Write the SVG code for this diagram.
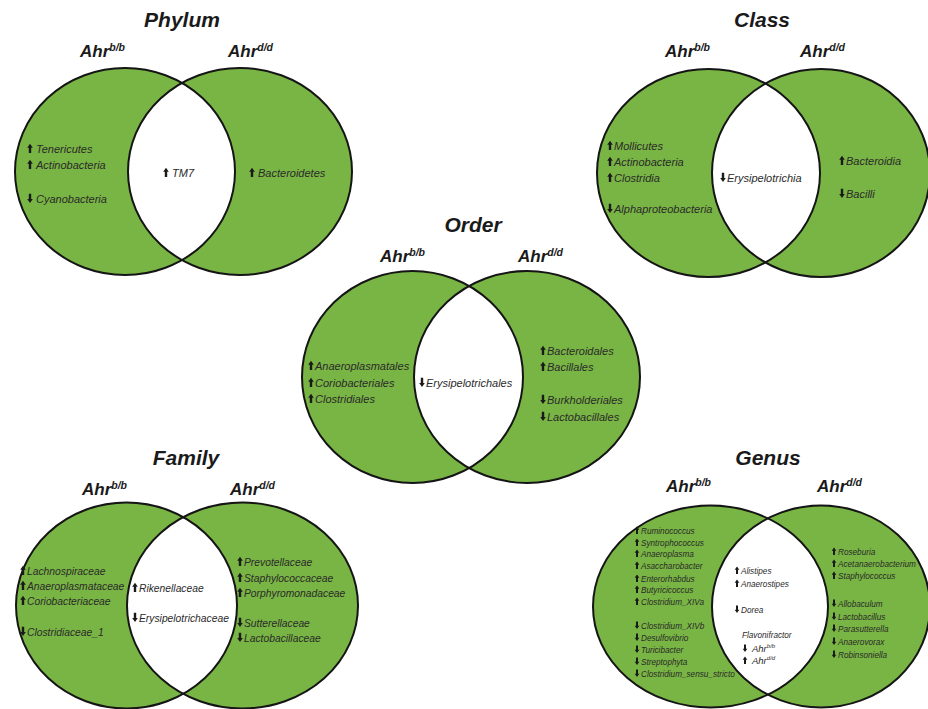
<svg xmlns="http://www.w3.org/2000/svg" xmlns:xlink="http://www.w3.org/1999/xlink" width="928" height="709" viewBox="0 0 928 709">
<style>
.g{fill:#79b544}
.w{fill:#ffffff}
.o{fill:none;stroke:#151515;stroke-width:2}
.ttl{font-family:"Liberation Sans",Arial,sans-serif;font-weight:bold;font-style:italic;font-size:21px;fill:#1a1a1a;text-anchor:middle}
.ahr{font-family:"Liberation Sans",Arial,sans-serif;font-weight:bold;font-style:italic;font-size:17px;fill:#1a1a1a}
.sup{font-size:10.5px}
.t{font-family:"Liberation Sans",Arial,sans-serif;font-style:italic;font-size:11px;fill:#2a2a2a}
.tf{font-size:10.3px}
.tg{font-size:8.2px}
.ar{fill:#1a1a1a}
</style>
<defs>
<path id="up" class="ar" d="M-1.2 0 V-5.2 H-2.8 L0 -9.2 L2.8 -5.2 H1.2 V0 Z"/>
<path id="dn" class="ar" d="M-1.2 -9.2 V-4 H-2.8 L0 0 L2.8 -4 H1.2 V-9.2 Z"/>
<path id="ups" class="ar" d="M-1 0 V-4.2 H-2.3 L0 -7.5 L2.3 -4.2 H1 V0 Z"/>
<path id="dns" class="ar" d="M-1 -7.5 V-3.3 H-2.3 L0 0 L2.3 -3.3 H1 V-7.5 Z"/>
<clipPath id="cP"><ellipse cx="125" cy="171.5" rx="110" ry="103.5"/></clipPath>
<clipPath id="cC"><ellipse cx="708.5" cy="173" rx="111.5" ry="104"/></clipPath>
<clipPath id="cO"><ellipse cx="412.5" cy="377" rx="110.5" ry="106"/></clipPath>
<clipPath id="cF"><ellipse cx="126.5" cy="605.5" rx="110.5" ry="103"/></clipPath>
<clipPath id="cG"><ellipse cx="710.5" cy="606.5" rx="117.5" ry="101"/></clipPath>
</defs>

<g id="phylum">
<ellipse class="g" cx="125" cy="171.5" rx="110" ry="103.5"/>
<ellipse class="g" cx="240" cy="171.5" rx="112" ry="103.5"/>
<ellipse class="w" cx="240" cy="171.5" rx="112" ry="103.5" clip-path="url(#cP)"/>
<ellipse class="o" cx="125" cy="171.5" rx="110" ry="103.5"/>
<ellipse class="o" cx="240" cy="171.5" rx="112" ry="103.5"/>
<text class="ttl" x="182" y="27">Phylum</text>
<text class="ahr" x="80" y="57">Ahr<tspan class="sup" dy="-6.5">b/b</tspan></text>
<text class="ahr" x="228" y="57">Ahr<tspan class="sup" dy="-6.5">d/d</tspan></text>
<use href="#up" x="30" y="153"/><text class="t" x="36" y="153">Tenericutes</text>
<use href="#up" x="30" y="169"/><text class="t" x="36" y="169">Actinobacteria</text>
<use href="#dn" x="30" y="203"/><text class="t" x="36" y="203">Cyanobacteria</text>
<use href="#up" x="166" y="177"/><text class="t" x="172" y="177">TM7</text>
<use href="#up" x="252" y="177"/><text class="t" x="258" y="177">Bacteroidetes</text>
</g>

<g id="class">
<ellipse class="g" cx="708.5" cy="173" rx="111.5" ry="104"/>
<ellipse class="g" cx="821" cy="173" rx="109" ry="104"/>
<ellipse class="w" cx="821" cy="173" rx="109" ry="104" clip-path="url(#cC)"/>
<ellipse class="o" cx="708.5" cy="173" rx="111.5" ry="104"/>
<ellipse class="o" cx="821" cy="173" rx="109" ry="104"/>
<text class="ttl" x="762" y="27">Class</text>
<text class="ahr" x="665" y="57">Ahr<tspan class="sup" dy="-6.5">b/b</tspan></text>
<text class="ahr" x="800" y="57">Ahr<tspan class="sup" dy="-6.5">d/d</tspan></text>
<use href="#up" x="610" y="150"/><text class="t" x="614" y="150">Mollicutes</text>
<use href="#up" x="610" y="166"/><text class="t" x="614" y="166">Actinobacteria</text>
<use href="#up" x="610" y="182"/><text class="t" x="614" y="182">Clostridia</text>
<use href="#dn" x="610" y="213"/><text class="t" x="614" y="213">Alphaproteobacteria</text>
<use href="#dn" x="723" y="182"/><text class="t" x="727" y="182">Erysipelotrichia</text>
<use href="#up" x="842" y="165"/><text class="t" x="846" y="165">Bacteroidia</text>
<use href="#dn" x="842" y="198"/><text class="t" x="846" y="198">Bacilli</text>
</g>

<g id="order">
<ellipse class="g" cx="412.5" cy="377" rx="110.5" ry="106"/>
<ellipse class="g" cx="527" cy="377" rx="113" ry="106"/>
<ellipse class="w" cx="527" cy="377" rx="113" ry="106" clip-path="url(#cO)"/>
<ellipse class="o" cx="412.5" cy="377" rx="110.5" ry="106"/>
<ellipse class="o" cx="527" cy="377" rx="113" ry="106"/>
<text class="ttl" x="473" y="232">Order</text>
<text class="ahr" x="380" y="262">Ahr<tspan class="sup" dy="-6.5">b/b</tspan></text>
<text class="ahr" x="518" y="262">Ahr<tspan class="sup" dy="-6.5">d/d</tspan></text>
<use href="#up" x="311" y="370"/><text class="t" x="315" y="370">Anaeroplasmatales</text>
<use href="#up" x="311" y="387"/><text class="t" x="315" y="387">Coriobacteriales</text>
<use href="#up" x="311" y="403"/><text class="t" x="315" y="403">Clostridiales</text>
<use href="#dn" x="422" y="387"/><text class="t" x="426" y="387">Erysipelotrichales</text>
<use href="#up" x="543" y="355"/><text class="t" x="547" y="355">Bacteroidales</text>
<use href="#up" x="543" y="371"/><text class="t" x="547" y="371">Bacillales</text>
<use href="#dn" x="543" y="404"/><text class="t" x="547" y="404">Burkholderiales</text>
<use href="#dn" x="543" y="421"/><text class="t" x="547" y="421">Lactobacillales</text>
</g>

<g id="family">
<ellipse class="g" cx="126.5" cy="605.5" rx="110.5" ry="103"/>
<ellipse class="g" cx="242.5" cy="605.5" rx="115.5" ry="103"/>
<ellipse class="w" cx="242.5" cy="605.5" rx="115.5" ry="103" clip-path="url(#cF)"/>
<ellipse class="o" cx="126.5" cy="605.5" rx="110.5" ry="103"/>
<ellipse class="o" cx="242.5" cy="605.5" rx="115.5" ry="103"/>
<text class="ttl" x="186" y="465">Family</text>
<text class="ahr" x="82" y="495">Ahr<tspan class="sup" dy="-6.5">b/b</tspan></text>
<text class="ahr" x="230" y="495">Ahr<tspan class="sup" dy="-6.5">d/d</tspan></text>
<use href="#up" x="23" y="575"/><text class="t tf" x="27" y="575">Lachnospiraceae</text>
<use href="#up" x="23" y="590"/><text class="t tf" x="27" y="590">Anaeroplasmataceae</text>
<use href="#up" x="23" y="605"/><text class="t tf" x="27" y="605">Coriobacteriaceae</text>
<use href="#dn" x="23" y="636"/><text class="t tf" x="27" y="636">Clostridiaceae_1</text>
<use href="#up" x="135" y="592"/><text class="t tf" x="139" y="592">Rikenellaceae</text>
<use href="#dn" x="135" y="622"/><text class="t tf" x="139" y="622">Erysipelotrichaceae</text>
<use href="#up" x="240" y="566"/><text class="t tf" x="244" y="566">Prevotellaceae</text>
<use href="#up" x="240" y="582"/><text class="t tf" x="244" y="582">Staphylococcaceae</text>
<use href="#up" x="240" y="597"/><text class="t tf" x="244" y="597">Porphyromonadaceae</text>
<use href="#dn" x="240" y="627"/><text class="t tf" x="244" y="627">Sutterellaceae</text>
<use href="#dn" x="240" y="642"/><text class="t tf" x="244" y="642">Lactobacillaceae</text>
</g>

<g id="genus">
<ellipse class="g" cx="710.5" cy="606.5" rx="117.5" ry="101"/>
<ellipse class="g" cx="821" cy="606.5" rx="109" ry="101"/>
<ellipse class="w" cx="821" cy="606.5" rx="109" ry="101" clip-path="url(#cG)"/>
<ellipse class="o" cx="710.5" cy="606.5" rx="117.5" ry="101"/>
<ellipse class="o" cx="821" cy="606.5" rx="109" ry="101"/>
<text class="ttl" x="768" y="465">Genus</text>
<text class="ahr" x="666" y="492">Ahr<tspan class="sup" dy="-6.5">b/b</tspan></text>
<text class="ahr" x="817" y="492">Ahr<tspan class="sup" dy="-6.5">d/d</tspan></text>
<use href="#ups" x="637" y="534"/><text class="t tg" x="641" y="534">Ruminococcus</text>
<use href="#ups" x="637" y="546"/><text class="t tg" x="641" y="546">Syntrophococcus</text>
<use href="#ups" x="637" y="557"/><text class="t tg" x="641" y="557">Anaeroplasma</text>
<use href="#ups" x="637" y="569"/><text class="t tg" x="641" y="569">Asaccharobacter</text>
<use href="#ups" x="637" y="582"/><text class="t tg" x="641" y="582">Enterorhabdus</text>
<use href="#ups" x="637" y="593"/><text class="t tg" x="641" y="593">Butyricicoccus</text>
<use href="#ups" x="637" y="605"/><text class="t tg" x="641" y="605">Clostridium_XIVa</text>
<use href="#dns" x="637" y="629"/><text class="t tg" x="641" y="629">Clostridium_XIVb</text>
<use href="#dns" x="637" y="641"/><text class="t tg" x="641" y="641">Desulfovibrio</text>
<use href="#dns" x="637" y="653"/><text class="t tg" x="641" y="653">Turicibacter</text>
<use href="#dns" x="637" y="665"/><text class="t tg" x="641" y="665">Streptophyta</text>
<use href="#dns" x="637" y="677"/><text class="t tg" x="641" y="677">Clostridium_sensu_stricto</text>
<use href="#ups" x="737" y="574"/><text class="t tg" x="741" y="574">Alistipes</text>
<use href="#ups" x="737" y="587"/><text class="t tg" x="741" y="587">Anaerostipes</text>
<use href="#dns" x="737" y="613"/><text class="t tg" x="741" y="613">Dorea</text>
<text class="t tg" x="742" y="638">Flavonifractor</text>
<use href="#dns" x="745" y="652"/><text class="t" style="font-size:9.5px" x="752" y="652">Ahr<tspan style="font-size:6px" dy="-4">b/b</tspan></text>
<use href="#ups" x="745" y="664"/><text class="t" style="font-size:9.5px" x="752" y="664">Ahr<tspan style="font-size:6px" dy="-4">d/d</tspan></text>
<use href="#ups" x="834" y="555"/><text class="t tg" x="838" y="555">Roseburia</text>
<use href="#ups" x="834" y="567"/><text class="t tg" x="838" y="567">Acetanaerobacterium</text>
<use href="#ups" x="834" y="579"/><text class="t tg" x="838" y="579">Staphylococcus</text>
<use href="#dns" x="834" y="607"/><text class="t tg" x="838" y="607">Allobaculum</text>
<use href="#dns" x="834" y="620"/><text class="t tg" x="838" y="620">Lactobacillus</text>
<use href="#dns" x="834" y="632"/><text class="t tg" x="838" y="632">Parasutterella</text>
<use href="#dns" x="834" y="645"/><text class="t tg" x="838" y="645">Anaerovorax</text>
<use href="#dns" x="834" y="658"/><text class="t tg" x="838" y="658">Robinsoniella</text>
</g>
</svg>
